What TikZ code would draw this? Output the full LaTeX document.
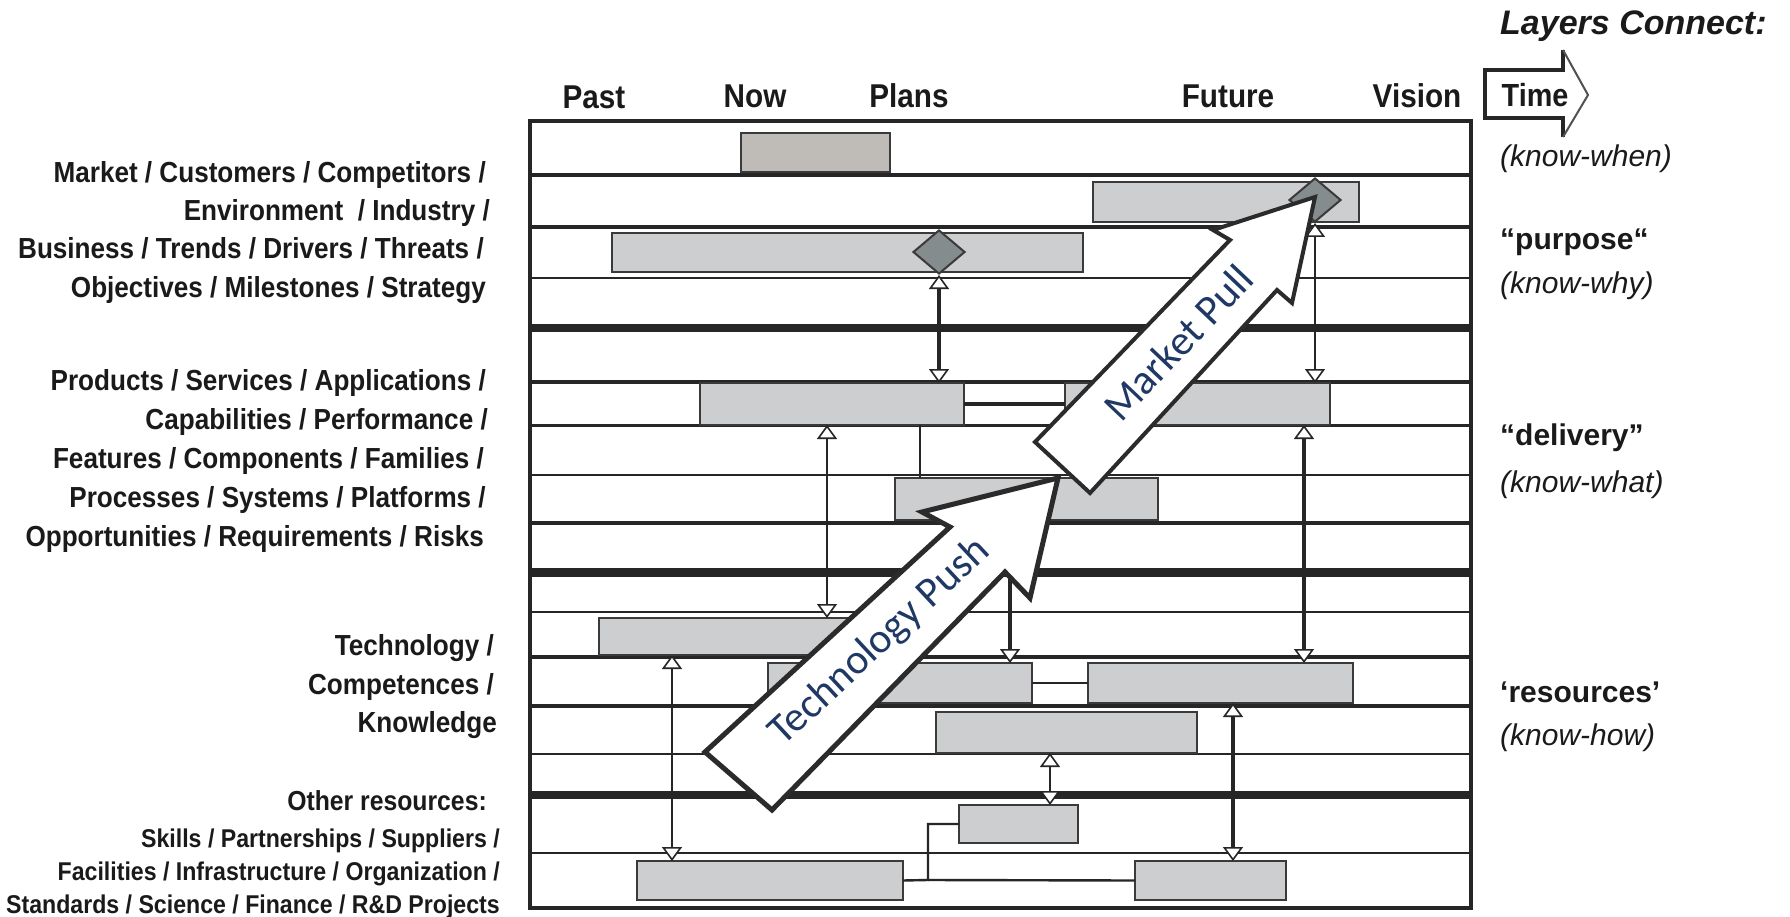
\documentclass[tikz,border=0pt]{standalone}
\usepackage{fontspec}
\setmainfont{Liberation Sans}
\newfontfamily\narrowsans[FakeStretch=0.9]{Liberation Sans}
\newfontfamily\calfont{Carlito}
\usetikzlibrary{arrows.meta,shapes.geometric}
\definecolor{gridc}{HTML}{262626}
\definecolor{barline}{HTML}{3A3A3A}
\definecolor{barfill}{HTML}{CDCED0}
\definecolor{warmfill}{HTML}{BFBCB8}
\definecolor{diamfill}{HTML}{858C8E}
\definecolor{navy}{HTML}{1F3864}
\definecolor{txt}{HTML}{1A1A1A}
\definecolor{arrowline}{HTML}{2B2B2B}

% one gray bar of the roadmap: [options]{x1}{y1}{x2}{y2}{name}
\newcommand\ganttbar[6][]{%
  \node[bar,#1,minimum width={(#4-#2)*1pt},minimum height={(#5-#3)*1pt}] (#6) at (#2,#3) {};}

\begin{document}
\begin{tikzpicture}[x=1pt,y=-1pt,
  bar/.style={draw=barline,line width=2pt,fill=barfill,inner sep=0pt,outer sep=0pt,anchor=north west},
  diam/.style={diamond,draw=barline,line width=2pt,fill=diamfill,inner sep=0pt,minimum width=52pt,minimum height=44pt},
  gridline/.style={draw=gridc},
  conthick/.style={draw=gridc,line width=3.5pt},
  contmid/.style={draw=gridc,line width=2.4pt},
  conthin/.style={draw=gridc,line width=1.6pt},
  wtri/.tip={Triangle[length=14pt,width=20pt,fill=white,line width=1.6pt]},
  dbl/.style={wtri-wtri},
  endtip/.style={-wtri},
  toplab/.style={font=\narrowsans\bfseries\fontsize{33}{40}\selectfont,text=txt,anchor=base,inner sep=0pt},
  leftlab/.style={font=\narrowsans\bfseries\fontsize{29}{36}\selectfont,text=txt,anchor=base east,inner sep=0pt},
  smalllab/.style={font=\narrowsans\bfseries\fontsize{25.7}{32}\selectfont,text=txt,anchor=base east,inner sep=0pt},
  rightbold/.style={font=\bfseries\fontsize{30}{36}\selectfont,text=txt,anchor=base west,inner sep=0pt},
  rightit/.style={font=\itshape\fontsize{30}{36}\selectfont,text=txt,anchor=base west,inner sep=0pt},
  arrowtext/.style={font=\calfont\fontsize{42}{48}\selectfont,text=navy,inner sep=0pt},
  bigarrow/.style={draw=arrowline,fill=white,line join=miter}
]
\useasboundingbox (0,0) rectangle (1790,917);
\fill[white] (0,0) rectangle (1790,917);

% ---- time axis labels ----
\node[toplab] (past)   at (594,109)  {Past};
\node[toplab] (now)    at (755,108)  {Now};
\node[toplab] (plans)  at (909,108)  {Plans};
\node[toplab] (future) at (1228,108) {Future};
\node[toplab] (vision) at (1417,108) {Vision};

% ---- horizontal layer lines ----
\foreach \y/\w in {175/3.5,227/3.5,278/1.8,328/8,382/3.5,425/3,475/2.5,523/4,
                   572/9,612/2,657/4,706/4.5,754/2,795/8,853/2}
  \draw[gridline,line width=\w pt] (530,\y) -- (1471,\y);
\draw[gridline,line width=4pt] (530,121) rectangle (1471,908);

% ---- bars ----
\ganttbar[fill=warmfill]{741}{133}{890}{172}{b1}
\ganttbar{1093}{182}{1359}{222}{b2}
\ganttbar{612}{233}{1083}{272}{b3}
\ganttbar{700}{383}{964}{425}{b6a}
\ganttbar{1065}{383}{1330}{425}{b6b}
\ganttbar{895}{478}{1158}{520}{b8}
\ganttbar{599}{618}{880}{655}{b11}
\ganttbar{768}{663}{1032}{703}{b12a}
\ganttbar{1088}{663}{1353}{703}{b12b}
\ganttbar{936}{712}{1197}{753}{b13}
\ganttbar{959}{805}{1078}{843}{b14}
\ganttbar{637}{861}{903}{900}{b16a}
\ganttbar{1135}{861}{1286}{900}{b16b}

% ---- milestones ----
\node[diam] (d1) at (939,252) {};
\node[diam] (d2) at (1315,200) {};

% ---- guide abscissae for vertical links ----
\coordinate (g920)  at (920,0);
\coordinate (g827)  at (827,0);
\coordinate (g1304) at (1304,0);
\coordinate (g1010) at (1010,0);
\coordinate (g672)  at (672,0);
\coordinate (g1233) at (1233,0);
\coordinate (g1050) at (1050,0);
\coordinate (elb)   at (928,880);

% ---- links between layers ----
\draw[conthick,dbl] (d1.south) -- (d1.south |- b6a.north);
\draw[conthin,dbl]  (d2.south) -- (d2.south |- b6b.north);
\draw[conthick] (b6a.east) -- (b6b.west);
\draw[conthin]  (g920 |- b6a.south) -- (g920 |- b8.north);
\draw[conthin,dbl]  (g827 |- b6a.south) -- (g827 |- b11.north);
\draw[conthick,dbl] (g1304 |- b6b.south) -- (g1304 |- b12b.north);
\draw[conthick,dbl] (g1010 |- b8.south) -- (g1010 |- b12a.north);
\draw[conthin,dbl]  (g672 |- b11.south) -- (g672 |- b16a.north);
\draw[conthin]  (b12a.east) -- (b12b.west);
\draw[conthick,dbl] (g1233 |- b12b.south) -- (g1233 |- b16b.north);
\draw[contmid,dbl]  (g1050 |- b13.south) -- (g1050 |- b14.north);
\draw[contmid] (b14.west) -| (elb) -- (b16a.east);
\draw[contmid] (elb) -- (b16b.west);

% ---- technology push ----
\draw[bigarrow,line width=5pt] (705,752) -- (950,527) -- (922,512) -- (1058,478)
  -- (1030,598) -- (1005,572) -- (772,810) -- cycle;
\node[arrowtext,rotate=43] (tp) at (880,642) {Technology Push};

% ---- market pull ----
\draw[bigarrow,line width=4pt] (1035,442) -- (1230,240) -- (1213,230) -- (1315,197)
  -- (1292,303) -- (1277,290) -- (1090,493) -- cycle;
\node[arrowtext,rotate=46.5] (mp) at (1178,343) {Market Pull};

% ---- left layer descriptions ----
\node[leftlab] (l1) at (486,183) {Market / Customers / Competitors /};
\node[leftlab] (l2) at (490,221) {Environment \ / Industry /};
\node[leftlab] (l3) at (484,259) {Business / Trends / Drivers / Threats /};
\node[leftlab] (l4) at (486,297) {Objectives / Milestones / Strategy};
\node[leftlab] (l5) at (486,390) {Products / Services / Applications /};
\node[leftlab] (l6) at (488,429) {Capabilities / Performance /};
\node[leftlab] (l7) at (484,468) {Features / Components / Families /};
\node[leftlab] (l8) at (486,507) {Processes / Systems / Platforms /};
\node[leftlab] (l9) at (484,546) {Opportunities / Requirements / Risks};
\node[leftlab] (l10) at (494,655) {Technology /};
\node[leftlab] (l11) at (494,694) {Competences /};
\node[leftlab] (l12) at (497,732) {Knowledge};
\node[leftlab,font=\narrowsans\bfseries\fontsize{27.5}{33}\selectfont] (l13) at (487,810) {Other resources:};
\node[smalllab] (l14) at (500,847) {Skills / Partnerships / Suppliers /};
\node[smalllab] (l15) at (500,880) {Facilities / Infrastructure / Organization /};
\node[smalllab] (l16) at (500,913) {Standards / Science / Finance / R\&D Projects};

% ---- right side: what the layers connect ----
\node[font=\bfseries\itshape\fontsize{34}{40}\selectfont,text=txt,anchor=base west,inner sep=0pt]
  (lc) at (1500,35) {Layers Connect:};
\draw[gridc,line width=3.5pt,line join=miter] (1563,50) -- (1563,70) -- (1485,70)
  -- (1485,118) -- (1563,118) -- (1563,137);
\draw[gridc!80,line width=2pt,line join=miter] (1563,50) -- (1588,95) -- (1563,137);
\node[toplab,font=\narrowsans\bfseries\fontsize{32}{38}\selectfont] (time) at (1535,107) {Time};
\node[rightit]   (r1) at (1500,167) {(know-when)};
\node[rightbold] (r2) at (1500,250) {“purpose“};
\node[rightit]   (r3) at (1500,293) {(know-why)};
\node[rightbold] (r4) at (1500,445) {“delivery”};
\node[rightit]   (r5) at (1500,492) {(know-what)};
\node[rightbold] (r6) at (1500,702) {‘resources’};
\node[rightit]   (r7) at (1500,745) {(know-how)};
\end{tikzpicture}
\end{document}
